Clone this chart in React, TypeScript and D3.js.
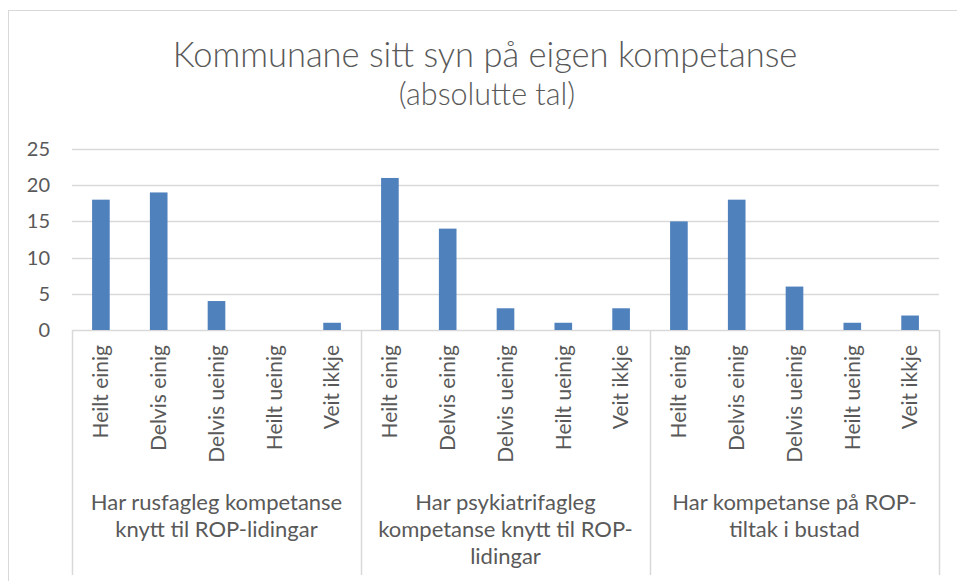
import React, { useEffect, useRef } from "react";
import * as d3 from "d3";

// data
const groups = [
  ["Har rusfagleg kompetanse", "knytt til ROP-lidingar"],
  ["Har psykiatrifagleg", "kompetanse knytt til ROP-", "lidingar"],
  ["Har kompetanse på ROP-", "tiltak i bustad"],
];
const answers = ["Heilt einig", "Delvis einig", "Delvis ueinig", "Heilt ueinig", "Veit ikkje"];
const values = [
  [18, 19, 4, 0, 1],
  [21, 14, 3, 1, 3],
  [15, 18, 6, 1, 2],
];
const yTicks = [0, 5, 10, 15, 20, 25];

const W = 957;
const H = 581;
const FONT = "Lato, 'Open Sans', sans-serif";
const TEXT = "#595959";
const GRID = "#d9d9d9";

export default function App() {
  const ref = useRef<SVGSVGElement>(null);

  useEffect(() => {
    const svg = d3.select(ref.current);
    svg.selectAll("*").remove();

    const left = 72;
    const right = 939;
    const top = 149;
    const bottom = 330;

    //una fila por barra
    const rows: { g: number; a: number; key: string; v: number }[] = [];
    values.forEach((vs, g) =>
      vs.forEach((v, a) => rows.push({ g, a, key: `${g}-${a}`, v }))
    );

    const x = d3
      .scaleBand<string>()
      .domain(rows.map((r) => r.key))
      .range([left, right])
      .paddingInner(0.695)
      .paddingOuter(0.3475);
    const xg = d3
      .scaleBand<number>()
      .domain(groups.map((_, i) => i))
      .range([left, right]);
    const y = d3.scaleLinear().domain([0, 25]).range([bottom, top]);

    // borde exterior
    svg
      .append("rect")
      .attr("x", 8.5)
      .attr("y", 10.5)
      .attr("width", W + 20)
      .attr("height", H + 20)
      .attr("fill", "none")
      .attr("stroke", GRID);

    // titulo
    svg
      .append("text")
      .attr("x", 485)
      .attr("y", 67)
      .attr("text-anchor", "middle")
      .attr("fill", TEXT)
      .style("font-family", FONT)
      .style("font-weight", 300)
      .style("font-size", "34.5px")
      .text("Kommunane  sitt syn på eigen kompetanse");
    svg
      .append("text")
      .attr("x", 487)
      .attr("y", 105)
      .attr("text-anchor", "middle")
      .attr("fill", TEXT)
      .style("font-family", FONT)
      .style("font-weight", 300)
      .style("font-size", "30.5px")
      .text("(absolutte tal)");

    // grid
    svg
      .selectAll("line.grid")
      .data(yTicks)
      .enter()
      .append("line")
      .attr("x1", left)
      .attr("x2", right)
      .attr("y1", (d) => Math.round(y(d)) + 0.5)
      .attr("y2", (d) => Math.round(y(d)) + 0.5)
      .attr("stroke", GRID)
      .attr("stroke-width", 1.5);

    svg
      .selectAll("text.ytick")
      .data(yTicks)
      .enter()
      .append("text")
      .attr("x", 50)
      .attr("y", (d) => y(d))
      .attr("dy", "0.35em")
      .attr("text-anchor", "end")
      .attr("fill", TEXT)
      .style("font-family", FONT)
      .style("font-size", "20px")
      .text((d) => d);

    // barras
    svg
      .selectAll("rect.bar")
      .data(rows)
      .enter()
      .append("rect")
      .attr("x", (d) => x(d.key)!)
      .attr("width", x.bandwidth())
      .attr("y", (d) => y(d.v))
      .attr("height", (d) => y(0) - y(d.v))
      .attr("fill", "#4f81bd");

    // separadores de grupo
    const seps = [...groups.map((_, i) => xg(i)!), right];
    svg
      .selectAll("line.sep")
      .data(seps)
      .enter()
      .append("line")
      .attr("x1", (d) => Math.round(d) + 0.5)
      .attr("x2", (d) => Math.round(d) + 0.5)
      .attr("y1", bottom)
      .attr("y2", 575)
      .attr("stroke", GRID)
      .attr("stroke-width", 1.5);

    // etiquetas rotadas
    svg
      .selectAll("text.cat")
      .data(rows)
      .enter()
      .append("text")
      .attr(
        "transform",
        (d) => `translate(${x(d.key)! + x.bandwidth() / 2},345) rotate(-90)`
      )
      .attr("dy", "0.35em")
      .attr("text-anchor", "end")
      .attr("fill", TEXT)
      .style("font-family", FONT)
      .style("font-size", "21px")
      .text((d) => answers[d.a]);

    // etiquetas de grupo
    groups.forEach((lines, i) => {
      const t = svg
        .append("text")
        .attr("text-anchor", "middle")
        .attr("fill", TEXT)
        .style("font-family", FONT)
        .style("font-size", "22px");
      lines.forEach((l, j) =>
        t
          .append("tspan")
          .attr("x", xg(i)! + xg.bandwidth() / 2)
          .attr("y", 510 + j * 27)
          .text(l)
      );
    });
  }, []);

  return (
    <div style={{ position: "absolute", left: 0, top: 0 }}>
      <svg ref={ref} width={W} height={H} style={{ display: "block", background: "#fff" }} />
    </div>
  );
}
